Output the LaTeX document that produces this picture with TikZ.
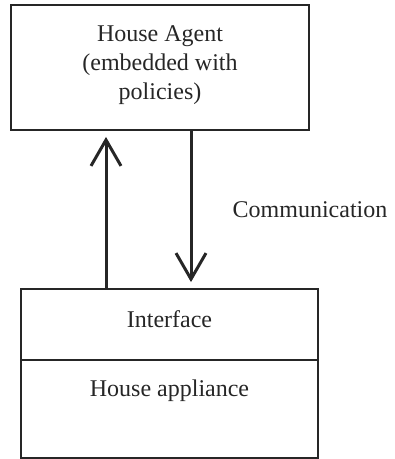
\documentclass[tikz,border=0pt]{standalone}
\usepackage{fontspec}
\setmainfont{Liberation Serif}
\usetikzlibrary{arrows.meta}
\begin{document}
\begin{tikzpicture}[x=1pt,y=-1pt,
  box/.style={draw=black!85,line width=1.8pt,rectangle,inner sep=0pt},
  lbl/.style={font=\fontsize{24}{29}\selectfont,text=black!85,align=center,inner sep=0pt},
  arr/.style={line width=3pt,draw=black!85,-{Straight Barb[length=26pt,width=30pt,line width=3pt]},shorten >=6pt}]
\useasboundingbox (0,0) rectangle (395,459);
\node[box,minimum width=298pt,minimum height=125pt] (agent) at (160,67.5) {};
\node[lbl] (agenttxt) at (160,65) {House Agent\\(embedded with\\policies)};
\node[box,minimum width=297pt,minimum height=71pt] (iface) at (169.5,324.5) {};
\node[box,minimum width=297pt,minimum height=98pt] (appl) at (169.5,409) {};
\node[lbl] (ifacetxt) at (169.5,319) {Interface};
\node[lbl] (appltxt) at (169.5,391) {House appliance};
\node[lbl] (comm) at (310,210) {Communication};
\coordinate (upx) at (106,0);
\coordinate (dnx) at (191,0);
\draw[arr] (iface.north -| upx) -- (agent.south -| upx);
\draw[arr] (agent.south -| dnx) -- (iface.north -| dnx);
\end{tikzpicture}
\end{document}
